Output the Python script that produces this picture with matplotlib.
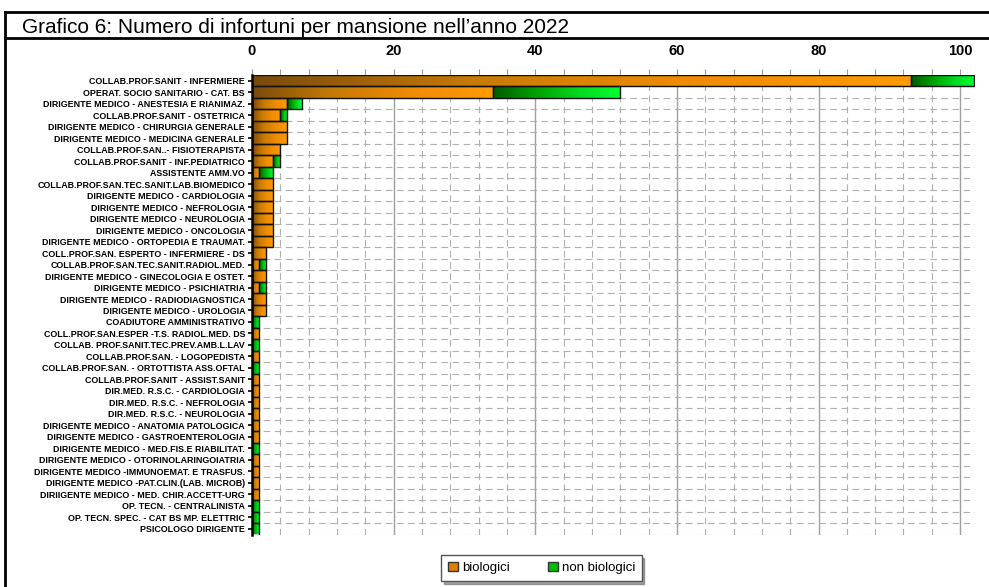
import numpy as np
import matplotlib
matplotlib.use("Agg")
import matplotlib.pyplot as plt
from matplotlib.colors import LinearSegmentedColormap
from matplotlib.patches import Patch
from matplotlib.lines import Line2D

plt.rcParams['font.family'] = ['Liberation Sans', 'DejaVu Sans']

# Dati
mansioni = [
    "COLLAB.PROF.SANIT - INFERMIERE",
    "OPERAT. SOCIO SANITARIO - CAT. BS",
    "DIRIGENTE MEDICO - ANESTESIA E RIANIMAZ.",
    "COLLAB.PROF.SANIT - OSTETRICA",
    "DIRIGENTE MEDICO - CHIRURGIA GENERALE",
    "DIRIGENTE MEDICO - MEDICINA GENERALE",
    "COLLAB.PROF.SAN..- FISIOTERAPISTA",
    "COLLAB.PROF.SANIT - INF.PEDIATRICO",
    "ASSISTENTE AMM.VO",
    "COLLAB.PROF.SAN.TEC.SANIT.LAB.BIOMEDICO",
    "DIRIGENTE MEDICO - CARDIOLOGIA",
    "DIRIGENTE MEDICO - NEFROLOGIA",
    "DIRIGENTE MEDICO - NEUROLOGIA",
    "DIRIGENTE MEDICO - ONCOLOGIA",
    "DIRIGENTE MEDICO - ORTOPEDIA E TRAUMAT.",
    "COLL.PROF.SAN. ESPERTO - INFERMIERE - DS",
    "COLLAB.PROF.SAN.TEC.SANIT.RADIOL.MED.",
    "DIRIGENTE MEDICO - GINECOLOGIA E OSTET.",
    "DIRIGENTE MEDICO - PSICHIATRIA",
    "DIRIGENTE MEDICO - RADIODIAGNOSTICA",
    "DIRIGENTE MEDICO - UROLOGIA",
    "COADIUTORE AMMINISTRATIVO",
    "COLL.PROF.SAN.ESPER -T.S. RADIOL.MED. DS",
    "COLLAB. PROF.SANIT.TEC.PREV.AMB.L.LAV",
    "COLLAB.PROF.SAN. - LOGOPEDISTA",
    "COLLAB.PROF.SAN. - ORTOTTISTA ASS.OFTAL",
    "COLLAB.PROF.SANIT - ASSIST.SANIT",
    "DIR.MED. R.S.C. - CARDIOLOGIA",
    "DIR.MED. R.S.C. - NEFROLOGIA",
    "DIR.MED. R.S.C. - NEUROLOGIA",
    "DIRIGENTE MEDICO - ANATOMIA PATOLOGICA",
    "DIRIGENTE MEDICO - GASTROENTEROLOGIA",
    "DIRIGENTE MEDICO - MED.FIS.E RIABILITAT.",
    "DIRIGENTE MEDICO - OTORINOLARINGOIATRIA",
    "DIRIGENTE MEDICO -IMMUNOEMAT. E TRASFUS.",
    "DIRIGENTE MEDICO -PAT.CLIN.(LAB. MICROB)",
    "DIRIIGENTE MEDICO - MED. CHIR.ACCETT-URG",
    "OP. TECN. - CENTRALINISTA",
    "OP. TECN. SPEC. - CAT BS MP. ELETTRIC",
    "PSICOLOGO DIRIGENTE",
]
biologici = [93, 34, 5, 4, 5, 5, 4, 3, 1, 3, 3, 3, 3, 3, 3, 2, 1, 2, 1, 2, 2,
             0, 1, 0, 1, 0, 1, 1, 1, 1, 1, 1, 0, 1, 1, 1, 1, 0, 0, 0]
non_biologici = [9, 18, 2, 1, 0, 0, 0, 1, 2, 0, 0, 0, 0, 0, 0, 0, 1, 0, 1, 0, 0,
                 1, 0, 1, 0, 1, 0, 0, 0, 0, 0, 0, 1, 0, 0, 0, 0, 1, 1, 1]
x_ticks = [0, 20, 40, 60, 80, 100]

cmap_bio = LinearSegmentedColormap.from_list("bio", ["#7a4a0c", "#c77a05", "#f08c00", "#ff9a00"])
cmap_nb = LinearSegmentedColormap.from_list("nb", ["#005a00", "#00a000", "#00d820", "#00ff30"])

fig = plt.figure(figsize=(9.89, 5.87), dpi=100)
W, H = 989, 587
ax = fig.add_axes([252 / W, 1 - 534.5 / H, (975 - 252) / W, (534.5 - 75) / H])

y = np.arange(len(mansioni))
bio = np.array(biologici)
nb = np.array(non_biologici)

grid_c = "#b0b0b0"
# griglia
for v in range(4, 102, 4):
    if v % 20 == 0:
        ax.axvline(v, color="#a0a0a0", lw=1.0, zorder=1)
    else:
        ax.axvline(v, color=grid_c, lw=0.8, ls=(0, (6, 4)), zorder=1)
for b in np.arange(0.5, len(mansioni) + 0.5, 1):
    ax.axhline(b, color=grid_c, lw=0.8, ls=(0, (6, 4)), zorder=1)

grad = np.linspace(0, 1, 256).reshape(1, -1)


def gradient_bars(bars, cmap):
    for bar in bars:
        w = bar.get_width()
        if w <= 0:
            bar.set_visible(False)
            continue
        x0, y0 = bar.get_xy()
        h = bar.get_height()
        im = ax.imshow(grad, extent=[x0, x0 + w, y0, y0 + h], cmap=cmap,
                       aspect="auto", zorder=2, interpolation="bilinear")
        im.set_clip_path(bar)


bars_b = ax.barh(y, bio, height=1.0, facecolor="none", edgecolor="#111111", lw=1.0, zorder=3)
bars_n = ax.barh(y, nb, left=bio, height=1.0, facecolor="none", edgecolor="#111111", lw=1.0, zorder=3)
gradient_bars(bars_b, cmap_bio)
gradient_bars(bars_n, cmap_nb)

ax.set_xlim(0, 102.1)
ax.set_ylim(len(mansioni) - 0.5, -0.5)

ax.set_yticks(y)
ax.set_yticklabels(mansioni, fontsize=6.4, fontweight="bold")
ax.tick_params(axis="y", length=3, width=1.2, color="black", pad=2)

ax.xaxis.tick_top()
ax.set_xticks(x_ticks)
ax.set_xticklabels([str(v) for v in x_ticks], fontsize=10.5, fontweight="bold")
ax.set_xticks(np.arange(0, 102, 4), minor=True)
ax.tick_params(axis="x", which="both", length=4, width=0.8, color="#999999", pad=8)

for s in ["top", "right", "bottom"]:
    ax.spines[s].set_visible(False)
ax.spines["left"].set_linewidth(1.8)
ax.spines["left"].set_zorder(4)

# cornice e titolo
fig.add_artist(Line2D([5 / W, 1], [1 - 12 / H, 1 - 12 / H], color="black", lw=2))
fig.add_artist(Line2D([5 / W, 1], [1 - 37.5 / H, 1 - 37.5 / H], color="black", lw=2))
fig.add_artist(Line2D([5 / W, 5 / W], [0, 1 - 12 / H], color="black", lw=2))
fig.text(22 / W, 1 - 33 / H, "Grafico 6: Numero di infortuni per mansione nell\u2019anno 2022",
         fontsize=15, va="baseline", ha="left")

handles = [Patch(facecolor="#e08000", edgecolor="#333333", label="biologici"),
           Patch(facecolor="#00c000", edgecolor="#333333", label="non biologici")]
leg = fig.legend(handles=handles, loc="center", bbox_to_anchor=(541.5 / W, 1 - 568 / H),
                 ncol=2, fontsize=9.5, frameon=True, fancybox=False, shadow=True,
                 handlelength=0.75, handleheight=0.75, handletextpad=0.3, columnspacing=2.9,
                 borderpad=0.5, borderaxespad=0)
leg.get_frame().set_edgecolor("#555555")

fig.savefig("out.png", dpi=100)
